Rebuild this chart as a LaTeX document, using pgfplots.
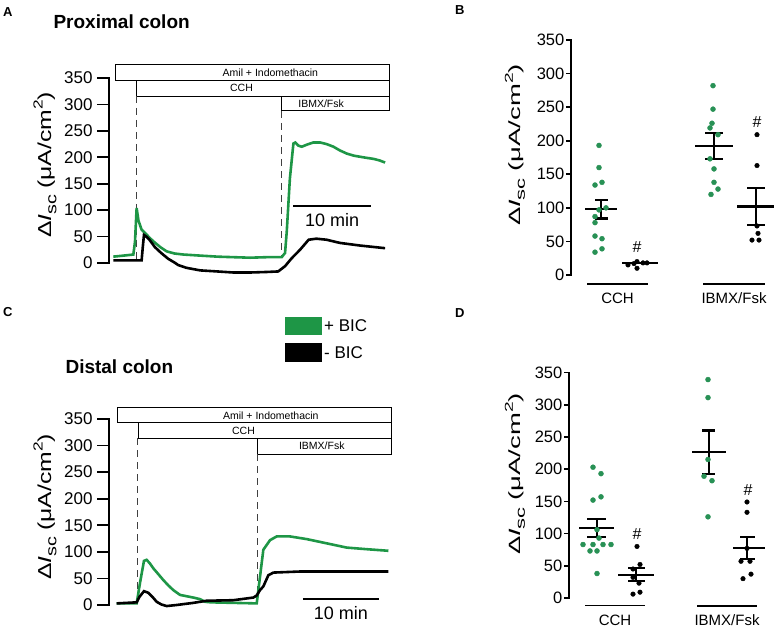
\documentclass[border=0pt]{standalone}
\usepackage{pgfplots}
\pgfplotsset{compat=1.18}
\usepackage{fontspec}
\setmainfont{Liberation Sans}
\definecolor{tgreen}{RGB}{30,150,70}
\definecolor{dgreen}{RGB}{40,145,85}
\newcommand{\ylabraw}{Δ\textit{I}\raisebox{-0.28em}{\fontsize{16}{16}\selectfont sc}\hspace{0.25em}(μA/cm\raisebox{0.45em}{\fontsize{14}{14}\selectfont 2})}
\newcommand{\ylabAC}{\resizebox*{146pt}{23pt}{\fontsize{20}{20}\selectfont\ylabraw}}
\newcommand{\ylabBD}{\resizebox*{162pt}{20pt}{\fontsize{20}{20}\selectfont\ylabraw}}
\tikzset{boxtxt/.style={font=\fontsize{10.5}{11}\selectfont}}
\begin{document}
\begin{tikzpicture}
\pgfplotsset{
  base/.style={scale only axis, anchor=south west, ymin=0, ymax=350, clip=false,
    axis line style={draw=none}, xtick=\empty, ytick pos=left,
    ytick={0,50,...,350}, tick align=outside,
    ytick style={line width=1.6pt, black},
    /pgf/number format/assume math mode=true,
    execute at end axis={\draw[line width=1.7pt, line cap=rect] (rel axis cs:0,0) -- (rel axis cs:0,1);}},
  trace/.style={base, major tick length=12pt,
    tick label style={font=\fontsize{17}{17}\selectfont},
    yticklabel style={xshift=-1pt}},
  scat/.style={base, major tick length=5pt,
    tick label style={font=\fontsize{16.5}{16.5}\selectfont},
    yticklabel style={inner sep=1.5pt}},
  gdot/.style={only marks, mark=*, mark size=2.5pt, dgreen},
  kdot/.style={only marks, mark=*, mark size=2.3pt, black},
  mline/.style={black, line width=2.2pt},
}
% ---------------- Panel A ----------------
\begin{axis}[trace, at={(109pt,365pt)}, width=280pt, height=185pt, xmin=-0.38, xmax=35.5]
\draw[line width=0.8pt] (axis cs:0.38,346) rectangle (axis cs:35.5,375);
\node[boxtxt] at (axis cs:20.3,360.5) {Amil + Indomethacin};
\draw[line width=0.8pt] (axis cs:3.08,316) rectangle (axis cs:35.5,346);
\node[boxtxt] at (axis cs:16.6,331) {CCH};
\draw[line width=0.8pt] (axis cs:21.67,288) rectangle (axis cs:35.5,316);
\node[boxtxt] at (axis cs:26.8,302) {IBMX/Fsk};
\draw[dash pattern=on 7pt off 5pt, line width=1pt, black!75] (axis cs:3.08,316) -- (axis cs:3.08,5);
\draw[dash pattern=on 7pt off 5pt, line width=1pt, black!75] (axis cs:21.67,288) -- (axis cs:21.67,12);
\addplot[tgreen, line width=2.6pt] coordinates {
(0.17,12) (1.5,14) (2.74,16) (2.95,40) (3.16,104) (3.4,80) (3.8,63) (4.23,57) (4.8,48)
(5.3,41) (6.2,30) (7.01,22) (8,18) (9.15,16) (11.28,14) (13.5,12) (15.56,11) (17.7,10)
(19.83,11) (21.75,11) (22.18,19) (22.4,60) (22.8,160) (23.25,226) (23.5,228) (23.89,222)
(24.32,220) (25.0,224) (25.81,228) (26.67,228) (27.5,225) (28.38,220) (29.2,213)
(30.09,207) (31.0,203) (31.79,201) (32.6,199) (33.5,197) (34.3,194) (35.0,190)};
\addplot[black, line width=2.6pt] coordinates {
(0.17,5) (2.74,5) (3.8,5) (3.95,30) (4.1,53) (4.4,50) (4.8,44) (5.5,30) (6.3,19) (7.2,8)
(8,1) (8.5,-4) (9.5,-9) (11.3,-14) (13.5,-16) (15.56,-18) (17.7,-18) (19.83,-17) (21.3,-16)
(22.18,-6) (23.03,9) (24.1,25) (25.2,44) (26.2,46) (27.5,44) (29.2,38) (31.8,33) (35.0,28)};
\draw[line width=1.6pt] (axis cs:23.2,108) -- (axis cs:33.2,108);
\node[font=\fontsize{18}{18}\selectfont] at (axis cs:28.2,81) {10 min};
\end{axis}
% ---------------- Panel C ----------------
\begin{axis}[trace, at={(109pt,23pt)}, width=282pt, height=186pt, xmin=-0.39, xmax=36.7]
\draw[line width=0.8pt] (axis cs:0.66,343) rectangle (axis cs:36.7,371);
\node[boxtxt] at (axis cs:20.9,357) {Amil + Indomethacin};
\draw[line width=0.8pt] (axis cs:3.42,314) rectangle (axis cs:36.7,343);
\node[boxtxt] at (axis cs:17.3,328.5) {CCH};
\draw[line width=0.8pt] (axis cs:19.1,284) rectangle (axis cs:36.7,314);
\node[boxtxt] at (axis cs:27.6,299) {IBMX/Fsk};
\draw[dash pattern=on 7pt off 5pt, line width=1pt, black!75] (axis cs:3.42,314) -- (axis cs:3.42,3);
\draw[dash pattern=on 7pt off 5pt, line width=1pt, black!75] (axis cs:19.1,284) -- (axis cs:19.1,3);
\addplot[tgreen, line width=2.6pt] coordinates {
(0.61,3) (3.25,3) (3.68,41) (4.21,83) (4.56,85) (5.0,78) (5.44,69) (6.1,58) (6.75,47)
(7.4,37) (8.07,28) (8.95,19) (10.7,14) (11.58,11) (12.24,6) (13,5) (16,4) (19.04,3)
(19.47,53) (19.91,104) (20.79,122) (21.67,129) (23.42,129) (25.61,124) (28.25,116)
(30.88,108) (33.51,105) (36.36,102)};
\addplot[black, line width=2.6pt] coordinates {
(0.61,3) (3.25,5) (3.6,15) (4.21,26) (4.78,23) (5.4,14) (5.88,6) (6.5,1) (7.19,-2)
(8.51,0) (10.7,4) (12.46,8) (15.96,9) (18.6,14) (19.04,18) (19.47,28) (19.91,35)
(20.57,56) (21.23,61) (24.74,63) (29.12,63) (36.36,63)};
\draw[line width=1.6pt] (axis cs:25.1,11) -- (axis cs:35.1,11);
\node[font=\fontsize{18}{18}\selectfont] at (axis cs:30.1,-16) {10 min};
\end{axis}
% ---------------- Panel B ----------------
\begin{axis}[scat, at={(571pt,353pt)}, width=200pt, height=235pt, xmin=0, xmax=200]
\addplot[gdot] coordinates {(28,193)(28,160)(24,134)(31,138)(35,100)(28,97)(24,87)(24,78)(24,58)(31,54)(31,39)(24,34)};
\addplot[kdot] coordinates {(57,15)(63,17)(66,20)(66,10)(72,18)(76,18)};
\addplot[gdot] coordinates {(142,282)(142,247)(141,226)(139,219)(147,209)(139,173)(143,158)(143,138)(147,128)(140,120)};
\addplot[kdot] coordinates {(186,209)(186,163)(186,73)(187,62)(181,52)(188,52)};
\addplot[mline] coordinates {(14,98)(46,98)};
\addplot[mline] coordinates {(30,84)(30,112)};
\addplot[mline] coordinates {(24,84)(37,84)};
\addplot[mline] coordinates {(24,112)(37,112)};
\addplot[mline] coordinates {(51,18)(87,18)};
\addplot[mline] coordinates {(124,192)(162,192)};
\addplot[mline] coordinates {(143,173)(143,212)};
\addplot[mline] coordinates {(134,173)(152,173)};
\addplot[mline] coordinates {(134,212)(152,212)};
\addplot[mline] coordinates {(166,102)(203,102)};
\addplot[mline] coordinates {(185,75)(185,130)};
\addplot[mline] coordinates {(176,75)(194,75)};
\addplot[mline] coordinates {(176,130)(194,130)};
\node[font=\fontsize{16}{16}\selectfont] at (axis cs:66,42) {\#};
\node[font=\fontsize{16}{16}\selectfont] at (axis cs:186,228) {\#};
\draw[line width=2.2pt] (axis cs:16,-13) -- (axis cs:77,-13);
\draw[line width=2.2pt] (axis cs:132,-13) -- (axis cs:194,-13);
\node[font=\fontsize{15}{15}\selectfont] at (axis cs:46.5,-35) {CCH};
\node[font=\fontsize{15}{15}\selectfont] at (axis cs:163,-35) {IBMX/Fsk};
\end{axis}
% ---------------- Panel D ----------------
\begin{axis}[scat, at={(569pt,30pt)}, width=200pt, height=225.5pt, xmin=0, xmax=200]
\addplot[gdot] coordinates {(24,203)(32,193)(24,152)(32,157)(28,106)(30,93)(14,83)(24,83)(34,83)(42,83)(21,73)(28,73)(28,38)};
\addplot[kdot] coordinates {(68,80)(71,52)(64,45)(64,32)(70,23)(64,6)(71,9)};
\addplot[gdot] coordinates {(139,339)(139,311)(139,215)(135,189)(143,182)(139,126)};
\addplot[kdot] coordinates {(178,149)(178,133)(178,77)(172,57)(181,57)(182,37)(174,30)};
\addplot[mline] coordinates {(10,109)(45,109)};
\addplot[mline] coordinates {(28,95)(28,122)};
\addplot[mline] coordinates {(18,95)(37,95)};
\addplot[mline] coordinates {(18,122)(37,122)};
\addplot[mline] coordinates {(49,36)(85,36)};
\addplot[mline] coordinates {(67,26)(67,46)};
\addplot[mline] coordinates {(59,26)(76,26)};
\addplot[mline] coordinates {(59,46)(76,46)};
\addplot[mline] coordinates {(123,227)(157,227)};
\addplot[mline] coordinates {(140,193)(140,260)};
\addplot[mline] coordinates {(133,193)(146,193)};
\addplot[mline] coordinates {(133,260)(146,260)};
\addplot[mline] coordinates {(164,77)(196,77)};
\addplot[mline] coordinates {(178,60)(178,95)};
\addplot[mline] coordinates {(171,60)(186,60)};
\addplot[mline] coordinates {(171,95)(186,95)};
\node[font=\fontsize{16}{16}\selectfont] at (axis cs:68,99) {\#};
\node[font=\fontsize{16}{16}\selectfont] at (axis cs:179,168) {\#};
\draw[line width=1.2pt] (axis cs:16,-12) -- (axis cs:76,-12);
\draw[line width=2.4pt] (axis cs:128,-12) -- (axis cs:188,-12);
\node[font=\fontsize{15}{15}\selectfont] at (axis cs:46,-35) {CCH};
\node[font=\fontsize{15}{15}\selectfont] at (axis cs:158,-35) {IBMX/Fsk};
\end{axis}
\begin{scope}[x=1pt,y=1pt]
\node[rotate=90, inner sep=0pt] at (45,463) {\ylabAC};
\node[anchor=west, font=\bfseries\fontsize{19}{19}\selectfont] at (50,606) {Proximal colon};
\node[anchor=west, inner sep=0pt, font=\bfseries\fontsize{13}{13}\selectfont] at (3,616) {A};
\node[rotate=90, inner sep=0pt] at (45,121) {\ylabAC};
\node[anchor=west, font=\bfseries\fontsize{19}{19}\selectfont] at (62,261) {Distal colon};
\node[anchor=west, inner sep=0pt, font=\bfseries\fontsize{13}{13}\selectfont] at (3,316) {C};
\fill[tgreen] (285,293) rectangle (322,311);
\fill[black] (285,266) rectangle (322,285);
\node[anchor=west, inner sep=1pt, font=\fontsize{17}{17}\selectfont] at (323,302) {+ BIC};
\node[anchor=west, inner sep=1pt, font=\fontsize{17}{17}\selectfont] at (323,275.5) {- BIC};
\node[rotate=90, inner sep=0pt] at (515,483) {\ylabBD};
\node[anchor=west, inner sep=0pt, font=\bfseries\fontsize{13}{13}\selectfont] at (455,618) {B};
\node[rotate=90, inner sep=0pt] at (515,154) {\ylabBD};
\node[anchor=west, inner sep=0pt, font=\bfseries\fontsize{13}{13}\selectfont] at (455,315) {D};
\pgfresetboundingbox
\useasboundingbox (0,0) rectangle (777,628);
\end{scope}
\end{tikzpicture}
\end{document}
